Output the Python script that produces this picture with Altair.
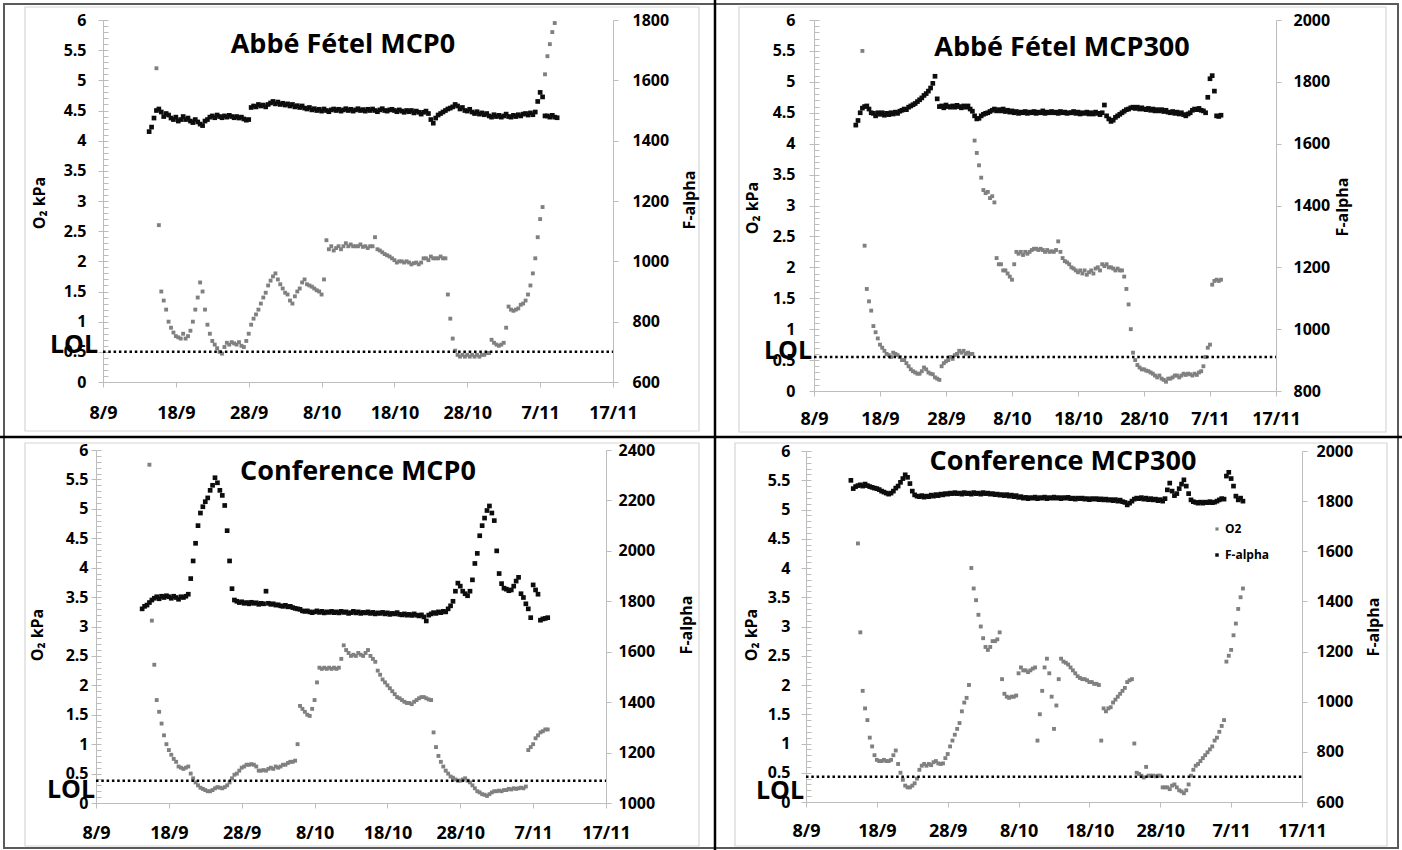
import json
import altair as alt
import pandas as pd

W, H = 1402, 850
FONT = "Open Sans"
AXIS_GREY = "#bdbdbd"
O2_COLOR = "#808080"
F_COLOR = "#0d0d0d"

# ---------------- shared axis data ----------------
X_TICKS = [0, 10, 20, 30, 40, 50, 60, 70]          # days after 8/9
X_LABELS = ["8/9", "18/9", "28/9", "8/10", "18/10", "28/10", "7/11", "17/11"]
O2_TICKS = [0, 0.5, 1, 1.5, 2, 2.5, 3, 3.5, 4, 4.5, 5, 5.5, 6]
O2_MINOR = [round(i * 0.1, 1) for i in range(61)]
TITLES = ["Abbé Fétel MCP0", "Abbé Fétel MCP300", "Conference MCP0", "Conference MCP300"]
F_DOMAINS = [[600, 1800], [800, 2000], [1000, 2400], [600, 2000]]
LOL_LEVELS = [0.5, 0.55, 0.38, 0.43]
O2_START_DAY = 7      # first O2 reading (day after 8/9)
F_START_DAY = 6       # first F-alpha reading
READINGS_PER_DAY = 3  # one reading every 8 h

# ---------------- series (one row = one day) ----------------
TL_O2 = [
    None, 5.2, 2.6,  1.5, 1.35, 1.2,  1.0, 0.9, 0.82,  0.76, 0.74, 0.72,
    0.8, 0.72, 0.76,  0.85, 1.0, 1.2,  1.4, 1.65, 1.5,  1.2, 0.95, 0.8,
    0.68, 0.62, 0.56,  0.5, 0.47, 0.58,  0.65, 0.62, 0.66,  0.64, 0.62, 0.66,
    0.6, 0.58, 0.68,  0.8, 0.95, 1.05,  1.12, 1.2, 1.3,  1.4, 1.48, 1.6,
    1.68, 1.75, 1.8,  1.7, 1.62, 1.55,  1.48, 1.45, 1.35,  1.3, 1.42, 1.5,
    1.55, 1.65, 1.7,  1.62, 1.6, 1.58,  1.55, 1.52, 1.5,  1.45, 1.7, 2.35,
    2.2, 2.25, 2.18,  2.22, 2.25, 2.2,  2.25, 2.3, 2.25,  2.28, 2.25, 2.25,
    2.25, 2.28, 2.24,  2.25, 2.22, 2.25,  2.25, 2.4, 2.2,  2.18, 2.15, 2.12,
    2.1, 2.08, 2.05,  2.02, 1.98, 2.0,  2.0, 1.98, 2.0,  1.98, 1.95, 1.97,
    1.98, 1.95, 1.98,  2.05, 2.05, 2.02,  2.08, 2.05, 2.05,  2.05, 2.08, 2.05,
    2.05, 1.45, 1.05,  0.72, 0.52, 0.45,  0.42, 0.45, 0.42,  0.45, 0.42, 0.45,
    0.42, 0.45, 0.42,  0.45, 0.45, 0.48,  0.48, 0.7, 0.65,  0.62, 0.6, 0.62,
    0.65, 0.9, 1.25,  1.2, 1.18, 1.2,  1.22, 1.28, 1.3,  1.35, 1.45, 1.6,
    1.8, 2.05, 2.4,  2.7, 2.9, 5.1,  5.4, 5.6, 5.8,  5.95,
]
TL_F = [
    None, 1430, 1445,  1475, 1500, 1505,  1495, 1480, 1490,  1485, 1475, 1470,
    1478, 1465, 1470,  1480, 1470, 1475,  1465, 1460, 1470,  1462, 1455, 1450,
    1465, 1470, 1478,  1482, 1476, 1485,  1480, 1476, 1482,  1478, 1484, 1480,
    1476, 1480, 1475,  1478, 1472, 1468,  1470, 1510, 1515,  1512, 1520, 1515,
    1518, 1512, 1520,  1525, 1530, 1522,  1528, 1520, 1524,  1518, 1522, 1515,
    1520, 1512, 1516,  1510, 1515, 1508,  1505, 1510, 1502,  1506, 1500, 1504,
    1498, 1505, 1500,  1496, 1502, 1505,  1500, 1504, 1498,  1502, 1506, 1500,
    1504, 1498, 1502,  1506, 1500, 1503,  1498, 1504, 1500,  1505, 1500, 1496,
    1502, 1506, 1500,  1498, 1502, 1504,  1500, 1496, 1502,  1498, 1494, 1500,
    1496, 1500, 1492,  1498, 1494, 1488,  1494, 1498, 1490,  1470, 1458, 1475,
    1485, 1490, 1495,  1500, 1505, 1508,  1512, 1520, 1515,  1505, 1510, 1500,
    1498, 1504, 1495,  1490, 1496, 1488,  1492, 1486, 1490,  1482, 1478, 1486,
    1480, 1484, 1478,  1482, 1488, 1480,  1478, 1484, 1480,  1486, 1482, 1488,
    1490, 1485, 1492,  1486, 1495, 1530,  1560, 1545, 1482,  1482, 1478, 1484,
    1478, 1476,
]
TR_O2 = [
    None, 5.5, 2.35,  1.65, 1.45, 1.3,  1.05, 0.95, 0.85,  0.75, 0.7, 0.65,
    0.6, 0.58, 0.55,  0.62, 0.6, 0.58,  0.55, 0.5, 0.5,  0.45, 0.4, 0.35,
    0.32, 0.3, 0.28,  0.28, 0.32, 0.38,  0.35, 0.3, 0.28,  0.27, 0.22, 0.2,
    0.18, 0.4, 0.45,  0.48, 0.5, 0.55,  0.52, 0.58, 0.6,  0.65, 0.62, 0.65,
    0.6, 0.62, 0.6,  0.6, 4.05, 3.85,  3.65, 3.45, 3.25,  3.2, 3.22, 3.12,
    3.15, 3.05, 2.15,  2.05, 2.05, 1.95,  1.95, 1.9, 1.85,  1.8, 2.05, 2.25,
    2.22, 2.25, 2.2,  2.25, 2.22, 2.25,  2.28, 2.3, 2.3,  2.28, 2.3, 2.28,
    2.25, 2.28, 2.25,  2.26, 2.25, 2.28,  2.42, 2.25, 2.15,  2.1, 2.08, 2.05,
    2.0, 1.98, 1.95,  1.92, 1.95, 1.9,  1.95, 1.88, 1.92,  1.95, 1.9, 1.98,
    2.0, 1.95, 2.05,  2.02, 2.05, 2.0,  2.0, 1.98, 1.95,  1.98, 1.95, 1.95,
    1.85, 1.65, 1.4,  1.0, 0.62, 0.5,  0.42, 0.38, 0.35,  0.35, 0.33, 0.32,
    0.3, 0.28, 0.25,  0.22, 0.25, 0.2,  0.18, 0.15, 0.2,  0.2, 0.22, 0.25,
    0.25, 0.22, 0.25,  0.28, 0.26, 0.28,  0.27, 0.25, 0.28,  0.26, 0.3, 0.32,
    0.4, 0.55, 0.7,  0.75, 1.72, 1.78,  1.8, 1.78, 1.8,
]
TR_F = [
    None, 1660, 1675,  1700, 1715, 1720,  1722, 1712, 1700,  1698, 1690, 1700,
    1695, 1700, 1692,  1698, 1694, 1700,  1696, 1702, 1698,  1705, 1708, 1712,
    1710, 1718, 1722,  1726, 1730, 1736,  1742, 1748, 1756,  1762, 1770, 1780,
    1795, 1818, 1745,  1720, 1722, 1716,  1725, 1720, 1718,  1722, 1718, 1724,
    1720, 1716, 1722,  1718, 1722, 1712,  1705, 1690, 1680,  1682, 1690, 1695,
    1698, 1700, 1704,  1708, 1712, 1706,  1710, 1706, 1712,  1704, 1708, 1702,
    1706, 1700, 1704,  1698, 1702, 1700,  1704, 1698, 1702,  1700, 1704, 1698,
    1702, 1700, 1706,  1698, 1702, 1700,  1704, 1700, 1702,  1698, 1704, 1700,
    1702, 1698, 1700,  1700, 1704, 1698,  1702, 1696, 1700,  1698, 1702, 1696,
    1700, 1696, 1702,  1698, 1694, 1700,  1725, 1690, 1680,  1672, 1676, 1685,
    1690, 1695, 1700,  1705, 1710, 1712,  1716, 1718, 1714,  1718, 1712, 1716,
    1712, 1710, 1714,  1708, 1712, 1706,  1710, 1706, 1710,  1704, 1708, 1702,
    1700, 1704, 1698,  1702, 1696, 1700,  1694, 1690, 1696,  1700, 1708, 1712,
    1710, 1714, 1708,  1706, 1700, 1750,  1810, 1820, 1770,  1690, 1688, 1692,
]
BL_O2 = [
    None, 5.75, 3.1,  2.35, 1.75, 1.55,  1.35, 1.15, 1.0,  0.9, 0.82, 0.75,
    0.7, 0.62, 0.6,  0.58, 0.6, 0.62,  0.5, 0.42, 0.35,  0.3, 0.26, 0.24,
    0.22, 0.2, 0.2,  0.22, 0.25, 0.27,  0.26, 0.25, 0.27,  0.3, 0.35, 0.42,
    0.48, 0.5, 0.55,  0.6, 0.62, 0.65,  0.65, 0.66, 0.65,  0.62, 0.55, 0.55,
    0.56, 0.55, 0.58,  0.6, 0.58, 0.62,  0.6, 0.62, 0.65,  0.65, 0.68, 0.7,
    0.7, 0.72, 1.0,  1.65, 1.6, 1.55,  1.5, 1.48, 1.6,  1.75, 2.05, 2.3,
    2.28, 2.3, 2.28,  2.3, 2.28, 2.3,  2.28, 2.3, 2.45,  2.68, 2.6, 2.55,
    2.5, 2.52, 2.5,  2.55, 2.52, 2.5,  2.55, 2.6, 2.5,  2.45, 2.4, 2.25,
    2.18, 2.1, 2.05,  2.0, 1.95, 1.9,  1.85, 1.8, 1.78,  1.75, 1.72, 1.7,
    1.7, 1.68, 1.72,  1.75, 1.78, 1.8,  1.8, 1.78, 1.76,  1.75, 1.2, 0.95,
    0.8, 0.7, 0.62,  0.55, 0.5, 0.45,  0.43, 0.4, 0.38,  0.38, 0.4, 0.42,
    0.38, 0.35, 0.3,  0.25, 0.2, 0.18,  0.15, 0.14, 0.12,  0.15, 0.18, 0.2,
    0.2, 0.21, 0.2,  0.22, 0.22, 0.24,  0.23, 0.25, 0.24,  0.25, 0.26, 0.25,
    0.28, 0.9, 0.95,  1.0, 1.1, 1.15,  1.2, 1.22, 1.25,  1.25,
]
BL_F = [
    None, 1770, 1780,  1785, 1795, 1805,  1812, 1818, 1810,  1820, 1815, 1822,
    1818, 1812, 1820,  1815, 1808, 1818,  1815, 1820, 1828,  1890, 1960, 2030,
    2100, 2150, 2175,  2195, 2210, 2240,  2260, 2290, 2270,  2240, 2220, 2180,
    2080, 1960, 1850,  1805, 1800, 1795,  1798, 1792, 1795,  1790, 1796, 1792,
    1794, 1788, 1792,  1790, 1840, 1792,  1788, 1790, 1785,  1786, 1782, 1780,
    1784, 1778, 1780,  1775, 1772, 1770,  1768, 1762, 1760,  1762, 1758, 1755,
    1758, 1762, 1756,  1760, 1754, 1758,  1756, 1760, 1755,  1758, 1754, 1760,
    1756, 1758, 1752,  1755, 1760, 1754,  1758, 1752, 1756,  1754, 1758, 1752,
    1756, 1750, 1754,  1752, 1756, 1750,  1754, 1748, 1752,  1750, 1755, 1748,
    1746, 1750, 1745,  1748, 1744, 1750,  1745, 1742, 1746,  1738, 1722, 1745,
    1750, 1755, 1752,  1758, 1755, 1760,  1758, 1770, 1782,  1800, 1840, 1872,
    1860, 1840, 1830,  1822, 1840, 1885,  1950, 1990, 2060,  2100, 2130, 2160,
    2178, 2150, 2120,  2000, 1910, 1870,  1852, 1848, 1842,  1845, 1860, 1880,
    1895, 1830, 1815,  1790, 1770, 1735,  1865, 1845, 1828,  1725, 1730, 1732,
    1735,
]
BR_O2 = [
    None, 4.42, 2.9,  1.9, 1.6, 1.4,  1.1, 0.95, 0.8,  0.72, 0.7, 0.7,
    0.72, 0.7, 0.7,  0.72, 0.8, 0.88,  0.65, 0.5, 0.38,  0.28, 0.25, 0.25,
    0.28, 0.32, 0.4,  0.55, 0.62, 0.65,  0.62, 0.65, 0.63,  0.68, 0.7, 0.66,
    0.65, 0.66, 0.75,  0.82, 0.95, 1.05,  1.15, 1.25, 1.35,  1.55, 1.7, 1.78,
    2.0, 4.0, 3.65,  3.45, 3.2, 3.0,  2.8, 2.65, 2.6,  2.65, 2.75, 2.75,
    2.78, 2.9, 2.1,  1.85, 1.8, 1.78,  1.8, 1.8, 1.82,  2.2, 2.3, 2.25,
    2.25, 2.22, 2.25,  2.28, 2.3, 1.05,  1.5, 1.9, 2.3,  2.45, 2.2, 1.8,
    1.25, 1.65, 2.1,  2.45, 2.4, 2.38,  2.35, 2.3, 2.25,  2.2, 2.15, 2.12,
    2.1, 2.1, 2.08,  2.05, 2.05, 2.02,  2.02, 2.0, 1.05,  1.6, 1.55, 1.6,
    1.62, 1.7, 1.75,  1.8, 1.85, 1.9,  1.95, 2.05, 2.08,  2.1, 1.0, 0.5,
    0.48, 0.45, 0.42,  0.6, 0.45, 0.45,  0.45, 0.44, 0.45,  0.45, 0.25, 0.25,
    0.25, 0.22, 0.28,  0.3, 0.25, 0.2,  0.18, 0.15, 0.2,  0.3, 0.45, 0.55,
    0.62, 0.65, 0.7,  0.75, 0.8, 0.85,  0.9, 0.95, 1.05,  1.1, 1.2, 1.3,
    1.4, 2.4, 2.5,  2.6, 2.85, 3.05,  3.3, 3.5, 3.65,
]
BR_F = [
    None, 1883, 1850,  1858, 1862, 1865,  1860, 1868, 1862,  1858, 1855, 1852,
    1850, 1846, 1840,  1836, 1832, 1828,  1832, 1840, 1852,  1860, 1875, 1890,
    1905, 1895, 1870,  1840, 1825, 1820,  1818, 1822, 1816,  1820, 1818, 1824,
    1820, 1826, 1822,  1828, 1825, 1830,  1828, 1832, 1830,  1834, 1830, 1832,
    1828, 1834, 1830,  1832, 1828, 1834,  1830, 1832, 1828,  1834, 1830, 1832,
    1828, 1830, 1826,  1828, 1824, 1826,  1822, 1826, 1820,  1824, 1818, 1822,
    1815, 1818, 1812,  1815, 1810, 1814,  1812, 1816, 1810,  1814, 1812, 1816,
    1810, 1814, 1812,  1816, 1812, 1814,  1810, 1814, 1812,  1815, 1810, 1812,
    1808, 1812, 1810,  1812, 1808, 1810,  1806, 1810, 1808,  1810, 1806, 1809,
    1805, 1808, 1804,  1806, 1802, 1806,  1800, 1804, 1798,  1795, 1785, 1792,
    1800, 1808, 1812,  1810, 1814, 1808,  1812, 1806, 1810,  1805, 1808, 1802,
    1806, 1800, 1810,  1845, 1872, 1840,  1822, 1830, 1850,  1868, 1885, 1860,
    1830, 1805, 1798,  1795, 1792, 1796,  1792, 1796, 1794,  1798, 1794, 1796,
    1800, 1805, 1810,  1808, 1900, 1915,  1890, 1860, 1820,  1805, 1812, 1800,
]
O2_SERIES = [TL_O2, TR_O2, BL_O2, BR_O2]
F_SERIES = [TL_F, TR_F, BL_F, BR_F]

# ---------------- layout (pixels) ----------------
LAYOUT = [
    dict(box=(103, 613, 20, 382), xpad=17, ypad=12, fpad=14,
         title=(343, 45), ytitle=(40, 203), ftitle=(690, 200), lol=(74, 345)),
    dict(box=(814, 1276, 20, 391), xpad=14, ypad=14, fpad=12,
         title=(1062, 48), ytitle=(753, 208), ftitle=(1343, 207), lol=(788, 351)),
    dict(box=(96, 606, 450, 803), xpad=16, ypad=3, fpad=7,
         title=(358, 472), ytitle=(38, 635), ftitle=(687, 625), lol=(71, 790)),
    dict(box=(806, 1302, 451, 802), xpad=15, ypad=11, fpad=9,
         title=(1063, 462), ytitle=(752, 635), ftitle=(1374, 627), lol=(780, 791)),
]

X_LABEL_EXPR = json.dumps(X_LABELS).replace('"', "'") + "[round(datum.value / 10)]"


def series_df(start, vals):
    rows = [(start + i / READINGS_PER_DAY, v) for i, v in enumerate(vals) if v is not None]
    return pd.DataFrame(rows, columns=["day", "value"])


def axis(**kw):
    base = dict(grid=False, domainColor=AXIS_GREY, tickColor=AXIS_GREY, domainWidth=1,
                tickWidth=1, labelFont=FONT, labelFontWeight="bold", labelColor="black",
                title=None, labelFlush=False, labelOverlap=False, labelBound=False)
    base.update(kw)
    return alt.Axis(**base)


def text(t, pos, size, angle=0, align="center"):
    return alt.Chart(pd.DataFrame({"t": [t]})).mark_text(
        font=FONT, fontWeight="bold", fontSize=size, angle=angle, align=align,
        baseline="middle", color="black"
    ).encode(x=alt.value(pos[0]), y=alt.value(pos[1]), text="t:N")


def frame(x1, y1, x2, y2, color, width):
    return alt.Chart(pd.DataFrame({"k": [0]})).mark_rect(
        fill="white", fillOpacity=0, stroke=color, strokeWidth=width
    ).encode(x=alt.value(x1), x2=alt.value(x2), y=alt.value(y1), y2=alt.value(y2))


def rule(x1, y1, x2, y2, color, width):
    return alt.Chart(pd.DataFrame({"k": [0]})).mark_rule(color=color, strokeWidth=width).encode(
        x=alt.value(x1), x2=alt.value(x2), y=alt.value(y1), y2=alt.value(y2))


layers = [
    frame(25, 7, 699, 431, "#d6d6d6", 1.2),
    frame(739, 7, 1386, 432, "#d6d6d6", 1.2),
    frame(25, 443, 699, 846, "#d6d6d6", 1.2),
    frame(735, 443, 1387, 846, "#d6d6d6", 1.2),
    frame(4, 4, 1398, 848, "#5a5a5a", 2),
    rule(715, 0, 715, 850, "black", 2.5),
    rule(0, 437, 1402, 437, "black", 2.5),
]

for i, lay in enumerate(LAYOUT):
    L, R, T, B = lay["box"]
    xs = alt.Scale(domain=[X_TICKS[0], X_TICKS[-1]], range=[L, R], nice=False)
    ys = alt.Scale(domain=[O2_TICKS[0], O2_TICKS[-1]], range=[B, T], nice=False)
    fdom = F_DOMAINS[i]
    fs = alt.Scale(domain=fdom, range=[B, T], nice=False)
    f_ticks = list(range(fdom[0], fdom[1] + 1, 200))
    o2df = series_df(O2_START_DAY, O2_SERIES[i])
    fdf = series_df(F_START_DAY, F_SERIES[i])

    # O2 points with bottom and left axes
    layers.append(alt.Chart(o2df).mark_square(size=15, color=O2_COLOR, opacity=1).encode(
        x=alt.X("day:Q", scale=xs, axis=axis(orient="bottom", offset=B - H, values=X_TICKS,
                                              labelExpr=X_LABEL_EXPR, tickSize=5,
                                              labelFontSize=18, labelPadding=lay["xpad"])),
        y=alt.Y("value:Q", scale=ys, axis=axis(orient="left", offset=-L, values=O2_TICKS,
                                                format="~g", tickSize=5, labelFontSize=16,
                                                labelPadding=lay["ypad"])),
    ))
    # minor ticks (inside) of the O2 axis
    layers.append(alt.Chart(o2df).mark_square(opacity=0).encode(
        x=alt.X("day:Q", scale=xs, axis=None),
        y=alt.Y("value:Q", scale=ys, axis=alt.Axis(orient="right", offset=L - W, values=O2_MINOR,
                                                    labels=False, domain=False, grid=False,
                                                    tickSize=5, tickColor=AXIS_GREY, title=None)),
    ))
    # F-alpha points with right axis
    layers.append(alt.Chart(fdf).mark_square(size=22, color=F_COLOR, opacity=1).encode(
        x=alt.X("day:Q", scale=xs, axis=None),
        y=alt.Y("value:Q", scale=fs, axis=axis(orient="right", offset=R - W, values=f_ticks,
                                                format="d", tickSize=5, labelFontSize=16,
                                                labelPadding=lay["fpad"])),
    ))
    # LOL dotted line
    lol_df = pd.DataFrame({"start": [X_TICKS[0]], "end": [X_TICKS[-1]], "lol": [LOL_LEVELS[i]]})
    layers.append(alt.Chart(lol_df).mark_rule(color="black", strokeWidth=2.5, strokeDash=[2.5, 2.8]).encode(
        x=alt.X("start:Q", scale=xs, axis=None), x2="end:Q",
        y=alt.Y("lol:Q", scale=ys, axis=None),
    ))
    layers.append(text(TITLES[i], lay["title"], 27))
    layers.append(text("O₂ kPa", lay["ytitle"], 16, angle=270))
    layers.append(text("F-alpha", lay["ftitle"], 16, angle=270))
    layers.append(text("LOL", lay["lol"], 25))

# legend in the last panel
layers.append(alt.Chart(pd.DataFrame({"k": [0]})).mark_square(size=10, color=O2_COLOR, opacity=1).encode(
    x=alt.value(1217), y=alt.value(529)))
layers.append(alt.Chart(pd.DataFrame({"k": [0]})).mark_square(size=12, color=F_COLOR, opacity=1).encode(
    x=alt.value(1217), y=alt.value(555)))
layers.append(text("O2", (1225, 529), 12, align="left"))
layers.append(text("F-alpha", (1225, 555), 12, align="left"))

chart = alt.layer(*layers).resolve_scale(x="independent", y="independent").properties(
    width=W, height=H, padding=0, autosize=alt.AutoSizeParams(type="none"),
    background="white",
).configure_view(strokeWidth=0)

chart.save("out.html", embed_options={"renderer": "svg", "actions": False})
